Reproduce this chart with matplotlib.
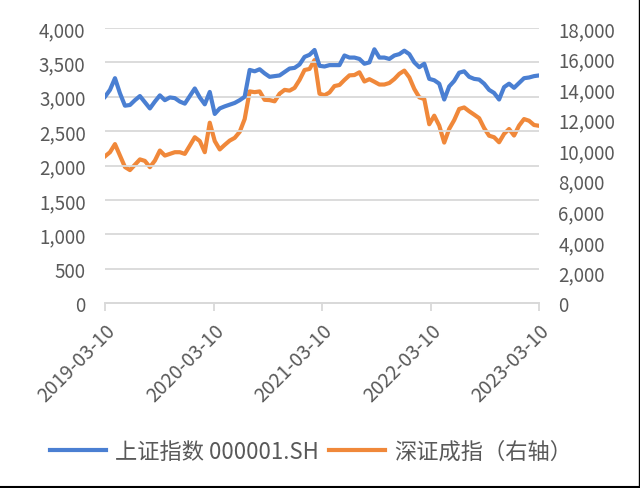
import matplotlib
matplotlib.use("Agg")
import matplotlib.pyplot as plt
import matplotlib.ticker as mticker
import matplotlib.transforms as mtransforms
from matplotlib.lines import Line2D
import pandas as pd

plt.rcParams['font.family'] = ['Noto Sans CJK SC', 'DejaVu Sans']

dates = pd.date_range('2019-03-10', '2023-03-10', periods=88)

sh_index = [
    3000, 3100, 3270, 3050, 2870, 2880, 2950, 3010, 2920, 2830,
    2930, 3020, 2950, 2990, 2980, 2930, 2900, 3010, 3120, 2990,
    2890, 3070, 2750, 2830, 2860, 2885, 2910, 2950, 3000, 3390,
    3370, 3400, 3340, 3290, 3300, 3310, 3360, 3410, 3420, 3470,
    3580, 3610, 3680, 3450, 3440, 3460, 3460, 3460, 3600, 3570,
    3570, 3550, 3480, 3500, 3690, 3570, 3570, 3550, 3600, 3620,
    3670, 3620, 3500, 3430, 3480, 3260, 3240, 3190, 2960, 3150,
    3230, 3350, 3370, 3290, 3260, 3250, 3190, 3100, 3055, 2960,
    3140, 3190, 3130, 3200, 3270, 3280, 3300, 3310,
]

sz_index = [
    9600, 9870, 10400, 9650, 8900, 8700, 9050, 9400, 9300, 8890,
    9320, 9980, 9650, 9760, 9870, 9870, 9760, 10300, 10850, 10600,
    9870, 11800, 10600, 10050, 10350, 10630, 10810, 11200, 12040, 13850,
    13800, 13850, 13300, 13280, 13200, 13700, 13950, 13900, 14080, 14600,
    15250, 15320, 15900, 13700, 13600, 13780, 14200, 14270, 14600, 14900,
    14920, 15100, 14500, 14650, 14480, 14300, 14300, 14400, 14660, 15000,
    15210, 14770, 14010, 13460, 13350, 11700, 12260, 11610, 10500, 11400,
    11970, 12700, 12800, 12550, 12330, 12100, 11450, 10950, 10850, 10520,
    11070, 11390, 10960, 11610, 12040, 11930, 11650, 11600,
]

tick_dates = pd.to_datetime(['2019-03-10', '2020-03-10', '2021-03-10',
                             '2022-03-10', '2023-03-10'])

blue = '#4a7fd2'
orange = '#f0883a'
text_gray = '#595959'
grid_gray = '#d9d9d9'

fig = plt.figure(figsize=(6.4, 4.89), dpi=100)
ax = fig.add_axes([105 / 640, 1 - 304 / 489, 434 / 640, 275 / 489])
ax2 = ax.twinx()

l1, = ax.plot(dates, sh_index, color=blue, lw=3, label='上证指数 000001.SH')
l2, = ax2.plot(dates, sz_index, color=orange, lw=3, label='深证成指（右轴）')

ax.set_zorder(ax2.get_zorder() + 1)
ax.patch.set_visible(False)

ax.set_xlim(tick_dates[0], tick_dates[-1])
ax.set_ylim(0, 4000)
ax2.set_ylim(0, 18000)
ax.set_yticks(range(0, 4001, 500))
ax2.set_yticks(range(0, 18001, 2000))
fmt = mticker.FuncFormatter(lambda v, p: f'{int(v):,}')
ax.yaxis.set_major_formatter(fmt)
ax2.yaxis.set_major_formatter(fmt)

ax.set_xticks(tick_dates)
ax.set_xticklabels([d.strftime('%Y-%m-%d') for d in tick_dates],
                   rotation=45, ha='right', va='top', rotation_mode='anchor')
shift = mtransforms.ScaledTranslation(0.08, -0.13, fig.dpi_scale_trans)
for lab in ax.get_xticklabels():
    lab.set_transform(lab.get_transform() + shift)

ax.grid(axis='y', color=grid_gray, lw=1.3)
ax.set_axisbelow(True)

for a in (ax, ax2):
    for s in ('top', 'left', 'right'):
        a.spines[s].set_visible(False)
    a.spines['bottom'].set_color(grid_gray)
    a.spines['bottom'].set_linewidth(1.3)

ax.tick_params(axis='x', length=6, width=1.3, color=grid_gray,
               labelsize=14, labelcolor=text_gray, pad=6)
ax.tick_params(axis='y', length=0, labelsize=13.5, labelcolor=text_gray, pad=14)
ax2.tick_params(axis='y', length=0, labelsize=13.5, labelcolor=text_gray, pad=14)

fig.legend(handles=[l1, l2], loc='center', bbox_to_anchor=(311 / 640, 1 - 452 / 489),
           ncol=2, frameon=False, fontsize=16, labelcolor=text_gray,
           handlelength=2.5, handletextpad=0.4, columnspacing=0.5)

# thin dark border on the bottom and right edge, as in the screenshot
fig.add_artist(Line2D([0, 1], [0.003, 0.003], transform=fig.transFigure,
                      color='black', lw=1.5))
fig.add_artist(Line2D([0.998, 0.998], [0, 1], transform=fig.transFigure,
                      color='black', lw=1.0))

fig.savefig('out.png', dpi=100)
